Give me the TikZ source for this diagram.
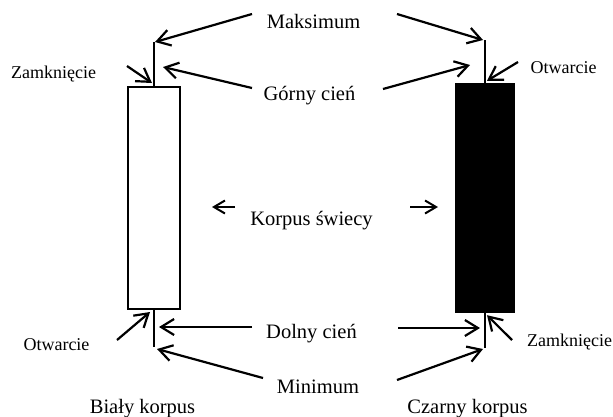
\documentclass[tikz,border=0pt]{standalone}
\usepackage{fontspec}
\setmainfont{Liberation Serif}
\usetikzlibrary{arrows.meta}
\tikzset{
 duzy/.style={anchor=base,inner sep=0pt,font=\fontsize{20.5}{24}\selectfont},
 maly/.style={anchor=base,inner sep=0pt,font=\fontsize{18}{21}\selectfont},
 strz/.style={-{Straight Barb[length=13pt,width=16pt]},line width=2.2pt},
 krotka/.style={-{Straight Barb[length=11pt,width=13pt]},line width=2pt},
 knot/.style={line width=1.6pt},
 bialy/.style={draw,line width=2pt,fill=white,minimum width=52pt,minimum height=222pt,inner sep=0pt},
 czarny/.style={fill=black,minimum width=60pt,minimum height=230pt,inner sep=0pt}
}
\begin{document}
\begin{tikzpicture}[x=1pt,y=-1pt]
\useasboundingbox(0,0)rectangle(613,416);
\node[bialy](b1)at(154,198){};
\node[czarny](b2)at(485,198){};
\coordinate(w1t)at(154,42);
\coordinate(w1b)at(154,347);
\coordinate(w2t)at(485,40);
\coordinate(w2b)at(485,348);
\draw[knot](b1.north)--(w1t);
\draw[knot](b1.south)--(w1b);
\draw[knot](b2.north)--(w2t);
\draw[knot](b2.south)--(w2b);
\node[duzy](maks)at(313.5,28){Maksimum};
\node[duzy](gorny)at(309.5,100){Górny cień};
\node[duzy](korp)at(311.5,225){Korpus świecy};
\node[duzy](dolny)at(311.5,338){Dolny cień};
\node[duzy](minim)at(318,393){Minimum};
\node[duzy](bk)at(142.5,413){Biały korpus};
\node[duzy](ck)at(467.5,413){Czarny korpus};
\node[maly](zam1)at(53.5,78){Zamknięcie};
\node[maly](otw1)at(563.5,73){Otwarcie};
\node[maly](otw2)at(56.5,350){Otwarcie};
\node[maly](zam2)at(569.5,346){Zamknięcie};
\draw[strz]([shift={(-61.5,-14)}]maks.base)--([xshift=1pt]w1t);
\draw[strz]([shift={(83.5,-14)}]maks.base)--([xshift=-2pt]w2t);
\draw[strz]([shift={(-57.5,-12)}]gorny.base)--([shift={(9,25)}]w1t);
\draw[strz]([shift={(73.5,-11)}]gorny.base)--([shift={(-15,25)}]w2t);
\draw[strz]([shift={(73.5,-12)}]zam1.base)--([shift={(-2,-3)}]b1.north);
\draw[strz]([shift={(-45.5,-11)}]otw1.base)--([shift={(2,-2)}]b2.north);
\draw[krotka]([shift={(-76.5,-18)}]korp.base)--++(-23,0);
\draw[krotka]([shift={(98.5,-18)}]korp.base)--++(28,0);
\draw[strz]([shift={(-59.5,-11)}]dolny.base)--([shift={(5,-20)}]w1b);
\draw[strz]([shift={(86.5,-10)}]dolny.base)--([shift={(-5,-20)}]w2b);
\draw[strz]([shift={(-55,-15)}]minim.base)--([shift={(3,2)}]w1b);
\draw[strz]([shift={(79,-13)}]minim.base)--([shift={(-2,1)}]w2b);
\draw[strz]([shift={(60.5,-10)}]otw2.base)--([shift={(-4,2)}]b1.south);
\draw[strz]([shift={(-57.5,-6)}]zam2.base)--([shift={(2,2)}]b2.south);
\end{tikzpicture}
\end{document}
